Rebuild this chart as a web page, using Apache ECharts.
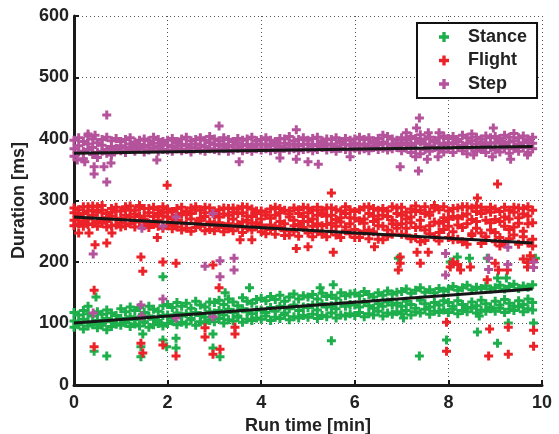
<!DOCTYPE html>
<html>
<head>
<meta charset="utf-8">
<script src="https://cdn.jsdelivr.net/npm/echarts@6.0.0/dist/echarts.min.js"></script>
<style>
  html, body { margin: 0; padding: 0; background: #fff; }
  #chart { width: 559px; height: 434px; }
</style>
</head>
<body>
<div id="chart"></div>
<script>
  // run time of each sampled step [min]
  const times = [
    0.0,0.1,0.2,0.3,0.4,0.5,0.6,0.7,0.8,0.9, 1.0,1.1,1.2,1.3,1.4,1.5,1.6,1.7,1.8,1.9,
    2.0,2.1,2.2,2.3,2.4,2.5,2.6,2.7,2.8,2.9, 3.0,3.1,3.2,3.3,3.4,3.5,3.6,3.7,3.8,3.9,
    4.0,4.1,4.2,4.3,4.4,4.5,4.6,4.7,4.8,4.9, 5.0,5.1,5.2,5.3,5.4,5.5,5.6,5.7,5.8,5.9,
    6.0,6.1,6.2,6.3,6.4,6.5,6.6,6.7,6.8,6.9, 7.0,7.1,7.2,7.3,7.4,7.5,7.6,7.7,7.8,7.9,
    8.0,8.1,8.2,8.3,8.4,8.5,8.6,8.7,8.8,8.9, 9.0,9.1,9.2,9.3,9.4,9.5,9.6,9.7,9.8
  ];

  // durations [ms], several readings per time column
  const stepHi = [
    398,402,396,405,400,394,399,403,397,401, 396,399,402,395,398,400,397,403,399,396,
    398,401,396,400,403,397,399,402,398,404, 400,397,402,399,396,401,398,400,403,397,
    399,402,398,396,401,400,404,397,399,402, 398,401,403,397,400,399,402,396,401,398,
    400,403,399,402,397,401,406,404,400,398, 402,399,404,401,407,400,403,398,402,405,
    401,404,399,406,402,408,403,400,405,402, 404,401,406,403,409,402,405,400,403
  ];
  const stepMid = [
    384,389,380,392,386,378,390,383,388,385, 389,386,392,388,391,387,390,393,388,391,
    390,388,393,389,391,387,392,390,388,394, 391,389,392,388,390,393,389,391,388,392,
    390,392,389,391,388,393,390,392,389,391, 392,389,391,394,390,392,388,393,391,390,
    393,390,392,389,394,391,395,392,390,393, 391,394,390,393,396,392,389,395,393,391,
    394,392,396,390,393,397,392,395,391,394, 393,396,391,395,397,392,394,396,393
  ];
  const stepLo = [
    372,379,368,383,375,370,380,377,374,382, 381,378,383,380,384,379,382,385,380,383,
    382,380,384,381,383,379,385,382,380,384, 383,381,384,380,382,385,381,383,380,384,
    382,384,381,383,380,385,382,384,381,383, 384,381,383,386,382,384,380,385,383,382,
    385,382,384,381,386,383,385,382,384,386, 381,385,378,384,376,383,380,386,382,379,
    384,378,386,381,376,385,380,383,378,386, 382,379,385,377,384,380,386,378,384
  ];
  const stepOutliers = [
    [0.7,439],[3.1,421],[0.3,408],[0.45,406],[0.07,366],[0.23,363],[0.43,355],[0.43,343],
    [0.64,355],[0.79,361],[0.7,330],[1.77,366],[4.75,415],[3.53,363],[4.75,367],[5.0,363],
    [5.22,359],[5.9,371],[4.4,369],[7.38,434],[7.32,418],[7.1,410],[7.57,410],[7.8,410],
    [6.97,355],[7.36,348],[7.3,371],[7.55,367],[7.78,371],[8.96,418],[8.54,374],[8.94,371],
    [9.33,367],[9.69,374],
    [0.41,213],[1.45,255],[1.9,258],[2.18,273],[2.97,279],[2.8,193],[3.12,202],[3.12,176],
    [3.42,206],[3.42,187],[1.9,140],[1.43,130],[0.41,117],[1.45,112],[2.18,109],[2.97,111],
    [7.94,214],[7.94,179],[8.86,206],[8.86,188],[9.27,224],[9.27,196],[9.82,200],[9.82,191]
  ];

  const flightA = [
    288,262,279,270,291,258,284,266,275,289, 264,286,273,257,289,269,280,261,285,275,
    286,261,276,252,283,270,290,258,274,265, 262,285,249,276,288,257,280,268,252,283,
    283,255,271,245,287,262,278,250,285,266, 247,284,262,279,241,288,258,272,251,285,
    282,246,270,238,287,259,276,242,290,255, 289,244,273,256,284,235,281,265,248,290,
    258,287,237,275,290,246,282,230,268,289, 286,240,273,253,289,229,278,262,284
  ];
  const flightB = [
    268,285,258,290,276,281,263,272,287,260, 283,259,291,278,265,287,256,274,268,290,
    259,282,268,289,255,279,263,285,251,288, 283,256,278,262,251,286,265,289,274,258,
    249,281,260,276,257,284,244,288,261,274, 280,258,289,245,275,263,285,240,279,262,
    253,285,263,279,249,270,236,283,262,288, 262,281,238,291,268,252,276,288,234,272,
    283,249,271,233,262,288,255,279,241,264, 248,282,230,270,257,288,241,275,226
  ];
  const flightC = [
    280,271,290,261,284,266,292,279,259,283, 271,290,262,284,274,259,287,266,279,255,
    273,254,287,264,277,250,284,271,289,260, 251,273,288,254,270,279,248,275,286,264,
    270,246,286,258,280,251,273,259,242,289, 266,241,276,259,288,250,269,283,257,246,
    271,240,289,252,266,284,258,274,245,279, 245,270,286,240,257,279,246,292,263,253,
    240,274,288,256,229,269,291,247,284,252, 269,226,289,238,281,263,250,290,237
  ];
  const flightD = [
    259,277,266,283,262,290,271,257,281,270, 257,276,284,266,292,275,263,289,258,281,
    281,270,257,279,262,288,256,267,280,253, 277,264,258,287,281,261,290,255,263,279,
    260,276,253,289,266,243,283,268,279,256, 288,270,249,284,261,276,244,265,290,272,
    240,267,250,290,275,237,287,252,268,261, 276,255,264,282,233,290,259,241,285,266,
    270,236,260,290,278,243,266,289,235,281, 233,266,258,284,244,272,287,231,264
  ];
  const flightOutliers = [
    [1.99,325],[5.5,312],[9.05,327],[8.62,304],[0.1,247],[0.32,247],[0.81,247],[0.45,228],
    [0.7,231],[1.43,208],[1.47,185],[1.9,200],[2.18,198],[1.78,240],[2.97,195],[3.1,158],
    [0.43,154],[0.43,62],[1.43,68],[1.47,52],[1.9,65],[2.18,47],[2.8,93],[2.8,78],
    [2.97,50],[3.12,58],[3.55,236],[3.8,236],[4.75,222],[5.0,225],[5.54,216],[6.42,225],
    [3.44,94],[3.44,83],[6.97,208],[6.97,198],[6.93,187],[7.33,216],[7.57,216],[7.4,198],
    [8.04,192],[8.26,187],[8.47,192],[8.83,171],[9.0,198],[9.07,187],[9.26,187],[9.69,192],
    [9.82,203],[9.6,205],[9.7,199],[9.75,210],[8.1,200],[8.2,196],[7.96,102],[7.96,55],
    [8.88,91],[8.86,47],[9.28,94],[9.28,50],[9.82,89],[9.82,63]
  ];

  const stanceHi = [
    118,114,121,116,112,119,115,122,117,113, 124,119,127,121,126,118,128,123,120,129,
    131,126,134,128,133,125,136,130,127,135, 134,138,131,140,135,129,142,136,133,139,
    141,137,144,139,146,136,143,148,140,145, 143,147,140,149,144,146,141,150,145,148,
    149,145,152,147,143,150,146,153,148,151, 152,156,149,154,158,151,155,150,157,153,
    156,160,154,158,162,155,159,157,161,156, 158,162,156,160,164,157,161,159,163
  ];
  const stanceMid = [
    104,100,107,102,98,105,101,108,103,99, 108,104,111,106,110,103,112,107,105,113,
    114,109,117,112,116,108,118,113,110,119, 117,121,114,123,118,112,124,119,116,122,
    122,118,126,120,128,117,124,130,121,127, 126,130,122,132,127,129,124,133,128,131,
    130,127,134,129,125,132,128,135,130,133, 128,136,131,125,138,132,127,134,130,137,
    134,128,137,131,126,135,129,138,132,127, 136,130,139,133,128,137,131,140,134
  ];
  const stanceLo = [
    94,98,91,96,100,93,97,90,95,99, 97,101,95,99,96,102,94,98,100,96,
    100,104,98,102,99,106,97,103,101,105, 103,108,101,106,104,110,102,107,105,109,
    107,112,105,110,108,114,106,111,109,113, 110,115,108,113,111,117,109,114,112,116,
    113,118,111,116,114,120,112,117,115,119, 116,121,114,119,117,123,115,120,118,122,
    118,123,116,121,119,125,117,122,120,124, 120,125,118,123,121,127,119,124,122
  ];
  const stanceOutliers = [
    [0.47,143],[0.3,128],[1.9,176],[0.43,55],[0.7,47],[1.47,83],[1.43,62],[1.43,46],
    [1.9,73],[1.98,62],[2.18,76],[2.18,60],[2.97,83],[2.97,60],[3.12,46],[3.23,150],
    [3.75,158],[5.5,72],[5.54,163],[5.26,158],[7.38,47],[7.96,73],[8.62,86],[9.05,68],
    [9.28,101],[9.82,101],[7.04,109],[8.66,112],[6.93,206],[8.04,200],[8.19,208],[8.45,206],
    [8.83,206],[9.05,174],[9.24,174],[9.69,200],[9.86,206],[8.09,198]
  ];

  // linear fits [time, ms] at start and end of run
  const stanceFit = [[0,101],[9.8,156]];
  const flightFit = [[0,273],[9.8,231]];
  const stepFit = [[0,377],[9.8,388]];

  const xTicks = [0,2,4,6,8,10];
  const yTicks = [0,100,200,300,400,500,600];

  function points(lists, extra){
    let out = [];
    lists.forEach(ys => ys.forEach((y,i) => out.push([times[i], y])));
    return out.concat(extra);
  }

  const plus = 'path://M3,0H6V3H9V6H6V9H3V6H0V3H3Z';
  const font = 'Liberation Sans, Arial, Helvetica, sans-serif';
  const labelStyle = { fontSize: 18, fontWeight: 'bold', color: '#222' };

  let myChart = echarts.init(document.getElementById('chart'));
  let option = {
    animation: false,
    backgroundColor: '#fff',
    textStyle: { fontFamily: font },
    grid: { left: 74, top: 16, right: 17, bottom: 49, containLabel: false, outerBoundsMode: 'none' },
    legend: {
      orient: 'vertical',
      left: 417,
      top: 23,
      padding: [5, 10, 5, 22],
      itemGap: 5.5,
      itemWidth: 38,
      itemHeight: 10,
      borderColor: '#111',
      borderWidth: 2,
      backgroundColor: '#fff',
      icon: plus,
      textStyle: { fontSize: 18, fontWeight: 'bold', color: '#222', lineHeight: 18, fontFamily: font },
      data: ['Stance', 'Flight', 'Step']
    },
    xAxis: {
      type: 'value',
      min: xTicks[0],
      max: xTicks[xTicks.length - 1],
      interval: 2,
      name: 'Run time [min]',
      nameLocation: 'middle',
      nameGap: 32,
      nameTextStyle: labelStyle,
      axisLine: { onZero: false, lineStyle: { color: '#1a1a1a', width: 3 } },
      axisTick: { inside: true, length: 5, lineStyle: { color: '#1a1a1a', width: 2 } },
      axisLabel: Object.assign({ margin: 9 }, labelStyle),
      splitLine: { show: true, lineStyle: { color: '#555', width: 1, type: [1, 3] } }
    },
    yAxis: {
      type: 'value',
      min: yTicks[0],
      max: yTicks[yTicks.length - 1],
      interval: 100,
      name: 'Duration [ms]',
      nameLocation: 'middle',
      nameRotate: 90,
      nameGap: 39,
      nameTextStyle: labelStyle,
      axisLine: { onZero: false, lineStyle: { color: '#1a1a1a', width: 3 } },
      axisTick: { inside: true, length: 5, lineStyle: { color: '#1a1a1a', width: 2 } },
      axisLabel: Object.assign({ margin: 5 }, labelStyle),
      splitLine: { show: true, lineStyle: { color: '#555', width: 1, type: [1, 3] } }
    },
    series: [
      {
        name: 'Stance', type: 'scatter', symbol: plus, symbolSize: 9,
        itemStyle: { color: '#1daf4b', opacity: 1 },
        data: points([stanceLo, stanceMid, stanceHi], stanceOutliers)
      },
      {
        name: 'Flight', type: 'scatter', symbol: plus, symbolSize: 9,
        itemStyle: { color: '#ec2229', opacity: 1 },
        data: points([flightA, flightB, flightC, flightD], flightOutliers)
      },
      {
        name: 'Step', type: 'scatter', symbol: plus, symbolSize: 9,
        itemStyle: { color: '#b4539b', opacity: 1 },
        data: points([stepLo, stepMid, stepHi], stepOutliers)
      },
      { type: 'line', data: stanceFit, symbol: 'none', lineStyle: { color: '#161616', width: 3 }, z: 5 },
      { type: 'line', data: flightFit, symbol: 'none', lineStyle: { color: '#161616', width: 3 }, z: 5 },
      { type: 'line', data: stepFit, symbol: 'none', lineStyle: { color: '#161616', width: 3 }, z: 5 }
    ]
  };
  myChart.setOption(option);
</script>
</body>
</html>
